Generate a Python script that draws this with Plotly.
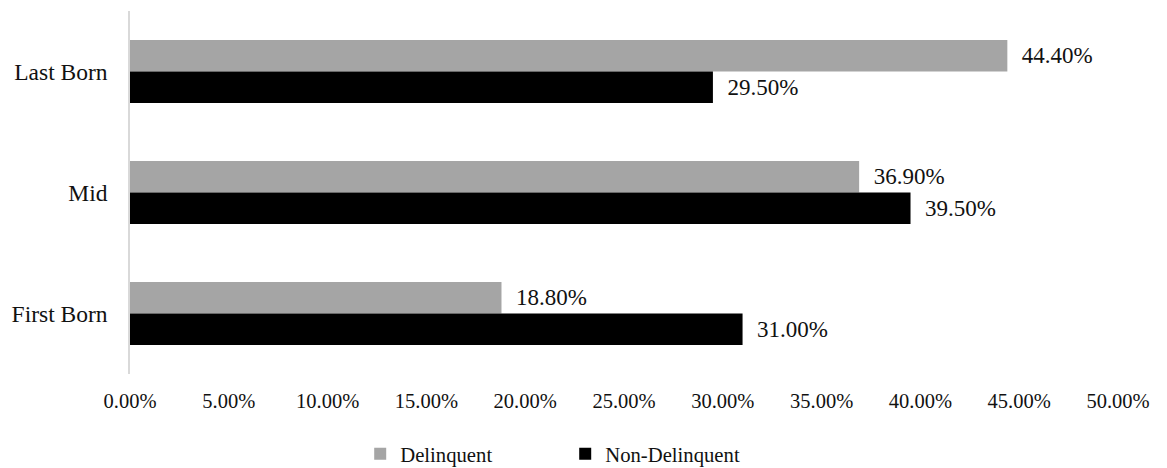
import plotly.graph_objects as go

# Birth order groups, listed top to bottom
categories = ["Last Born", "Mid", "First Born"]
delinquent = [44.4, 36.9, 18.8]
non_delinquent = [29.5, 39.5, 31.0]
tick_values = [0, 5, 10, 15, 20, 25, 30, 35, 40, 45, 50]
tick_labels = [f"{v:.2f}%" for v in tick_values]

FONT = "Liberation Serif"
NBSP = "\u00a0"

fig = go.Figure()
fig.add_trace(go.Bar(
    name="Delinquent", y=categories, x=delinquent, orientation="h",
    marker=dict(color="#A5A5A5", line=dict(width=0)),
    texttemplate=NBSP * 2 + "%{x:.2f}%", textposition="outside",
    textfont=dict(family=FONT, size=23, color="#111"),
    constraintext="none", cliponaxis=False,
))
fig.add_trace(go.Bar(
    name="Non-Delinquent", y=categories, x=non_delinquent, orientation="h",
    marker=dict(color="#000000", line=dict(width=0)),
    texttemplate=NBSP * 2 + "%{x:.2f}%", textposition="outside",
    textfont=dict(family=FONT, size=23, color="#111"),
    constraintext="none", cliponaxis=False,
))

fig.update_layout(
    width=1167, height=468,
    margin=dict(l=129.5, r=48.5, t=11, b=94, autoexpand=False),
    paper_bgcolor="white", plot_bgcolor="white",
    barmode="group", bargap=0.479, bargroupgap=0,
    font=dict(family=FONT, color="#111"),
    xaxis=dict(
        range=[0, 50], tickvals=tick_values, ticktext=tick_labels,
        showgrid=False, zeroline=False, showline=False, automargin=False,
        tickfont=dict(family=FONT, size=20.5), ticks="outside", ticklen=8,
        tickcolor="rgba(0,0,0,0)",
    ),
    yaxis=dict(
        categoryorder="array", categoryarray=categories, autorange="reversed",
        showgrid=False, zeroline=False, showline=True, linecolor="#D9D9D9", linewidth=1.5,
        automargin=False,
        tickfont=dict(family=FONT, size=23.5), ticks="outside", ticklen=16,
        tickcolor="rgba(0,0,0,0)",
    ),
    legend=dict(
        orientation="h", x=0.233, xanchor="left", y=-0.22, yanchor="middle",
        font=dict(family=FONT, size=20.7), itemwidth=30, traceorder="normal",
        entrywidth=160, entrywidthmode="pixels",
    ),
    showlegend=True,
)

fig.write_html("out.html")
